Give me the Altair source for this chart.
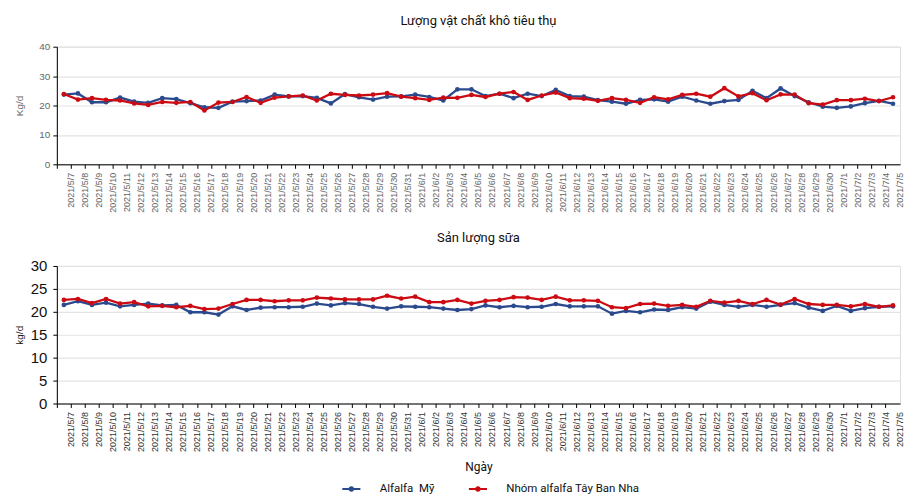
import altair as alt
import pandas as pd

dates = (
    [f"2021/5/{d}" for d in range(7, 32)]
    + [f"2021/6/{d}" for d in range(1, 31)]
    + [f"2021/7/{d}" for d in range(1, 6)]
)

series_names = ["Alfalfa\u00a0 Mỹ", "Nhóm alfalfa Tây Ban Nha"]
series_colors = ["#2B4A8E", "#CC0A12"]

# Lượng vật chất khô tiêu thụ (Kg/d)
dmi_us = [23.7, 24.1, 21.1, 21.1, 22.7, 21.3, 20.9, 22.5, 22.2, 20.8,
          19.4, 19.2, 21.3, 21.5, 21.7, 23.7, 23.1, 23.2, 22.6, 20.7,
          23.9, 22.8, 22.0, 23.0, 23.1, 23.7, 22.9, 21.7, 25.5, 25.5,
          23.2, 24.0, 22.5, 24.0, 23.2, 25.3, 23.2, 23.0, 21.8, 21.3,
          20.6, 21.9, 22.1, 21.3, 23.0, 21.7, 20.6, 21.5, 21.9, 25.0,
          22.5, 25.8, 23.2, 21.1, 19.6, 19.2, 19.7, 20.8, 21.6, 20.6]
dmi_es = [23.9, 22.0, 22.5, 21.9, 21.7, 20.7, 20.2, 21.2, 20.9, 21.2,
          18.3, 21.0, 21.2, 22.9, 20.9, 22.7, 23.1, 23.4, 21.7, 24.0,
          23.6, 23.4, 23.7, 24.2, 23.0, 22.5, 21.9, 22.7, 22.6, 23.6,
          22.9, 24.0, 24.6, 21.9, 23.4, 24.4, 22.5, 22.3, 21.6, 22.5,
          21.9, 20.9, 22.8, 22.1, 23.6, 24.0, 23.0, 25.9, 23.1, 24.2,
          21.8, 23.8, 23.7, 20.8, 20.3, 21.8, 21.8, 22.3, 21.5, 22.8]

# Sản lượng sữa (kg/d)
milk_us = [21.5, 22.3, 21.5, 22.0, 21.2, 21.5, 21.8, 21.4, 21.5, 19.9,
           19.9, 19.4, 21.2, 20.4, 20.9, 21.0, 21.0, 21.1, 21.8, 21.4,
           21.9, 21.7, 21.1, 20.7, 21.2, 21.1, 21.0, 20.7, 20.4, 20.6,
           21.4, 21.0, 21.3, 21.0, 21.1, 21.7, 21.2, 21.2, 21.2, 19.6,
           20.2, 19.9, 20.5, 20.4, 21.0, 20.7, 22.2, 21.5, 21.1, 21.5,
           21.1, 21.5, 21.9, 20.9, 20.2, 21.3, 20.2, 20.8, 21.1, 21.2]
milk_es = [22.6, 22.8, 21.9, 22.8, 21.8, 22.1, 21.2, 21.3, 21.0, 21.3,
           20.6, 20.7, 21.7, 22.6, 22.6, 22.3, 22.5, 22.5, 23.1, 22.9,
           22.7, 22.7, 22.7, 23.5, 22.9, 23.3, 22.1, 22.1, 22.6, 21.8,
           22.4, 22.6, 23.2, 23.1, 22.6, 23.3, 22.5, 22.5, 22.4, 21.0,
           20.8, 21.7, 21.8, 21.3, 21.5, 21.1, 22.4, 22.0, 22.4, 21.7,
           22.6, 21.6, 22.8, 21.7, 21.5, 21.5, 21.2, 21.7, 21.1, 21.4]


def long_df(a, b):
    rows = []
    for name, vals in zip(series_names, [a, b]):
        for d, v in zip(dates, vals):
            rows.append({"date": d, "series": name, "value": v})
    return pd.DataFrame(rows)


color = alt.Color(
    "series:N",
    scale=alt.Scale(domain=series_names, range=series_colors),
    legend=alt.Legend(
        orient="none",
        legendX=285,
        legendY=433,
        direction="horizontal",
        title=None,
        symbolType="M-1,0L1,0M-0.17,0a0.17,0.17 0 1,0 0.34,0a0.17,0.17 0 1,0 -0.34,0",
        symbolSize=330,
        symbolStrokeWidth=2.2,
        labelFont="Roboto",
        labelFontSize=11.5,
        labelColor="#111111",
        labelOffset=18,
        columnPadding=30,
    ),
)


def panel(a, b, title, ytitle, ymax, ystep, w, h, ylab_size, ylab_color,
          xlab_color, xtitle, ylab_pad, ytitle_pad):
    df = long_df(a, b)
    band = w / len(dates)
    xaxis = alt.Axis(
        labelAngle=270,
        bandPosition=0,
        labelOffset=band / 2,
        labelFont="Liberation Sans",
        labelFontSize=9,
        labelColor=xlab_color,
        labelPadding=4,
        domainColor="#000000",
        tickColor="#000000",
        tickSize=4,
        grid=False,
        title=xtitle if xtitle else None,
        titleFont="Roboto",
        titleFontSize=12,
        titleFontWeight="normal",
        titleColor="#111111",
        titlePadding=10,
    )
    yaxis = alt.Axis(
        values=list(range(0, ymax + 1, ystep)),
        title=ytitle,
        titleFont="Liberation Sans",
        titleFontSize=10,
        titleFontWeight="normal",
        titleColor=ylab_color,
        titlePadding=ytitle_pad,
        labelFont="Liberation Sans",
        labelFontSize=ylab_size,
        labelColor=ylab_color,
        labelPadding=ylab_pad,
        domainColor="#000000",
        tickColor="#000000",
        tickSize=4,
        gridColor="#E3E3E3",
        gridWidth=1.2,
    )
    return (
        alt.Chart(df)
        .mark_line(strokeWidth=2.3, point=alt.OverlayMarkDef(filled=True, size=22))
        .encode(
            x=alt.X("date:O", sort=dates,
                    scale=alt.Scale(type="band", paddingInner=0, paddingOuter=0),
                    axis=xaxis),
            y=alt.Y("value:Q", scale=alt.Scale(domain=[0, ymax], nice=False), axis=yaxis),
            color=color,
        )
        .properties(
            width=w,
            height=h,
            title=alt.TitleParams(title, font="Roboto", fontSize=13,
                                  fontWeight="normal", color="#111111", offset=14),
        )
    )


top = panel(dmi_us, dmi_es, "Lượng vật chất khô tiêu thụ", "Kg/d", 40, 10,
            846, 118, 10, "#666666", "#666666", None, 3, 14)
bottom = panel(milk_us, milk_es, "Sản lượng sữa", "kg/d", 30, 5,
               846, 138, 15, "#111111", "#333333", "Ngày", 6, 6)

chart = (
    alt.vconcat(top, bottom, spacing=18)
    .configure_view(stroke=None)
    .configure(background="white")
)

chart.save("out.html", embed_options={"renderer": "svg", "actions": False})
